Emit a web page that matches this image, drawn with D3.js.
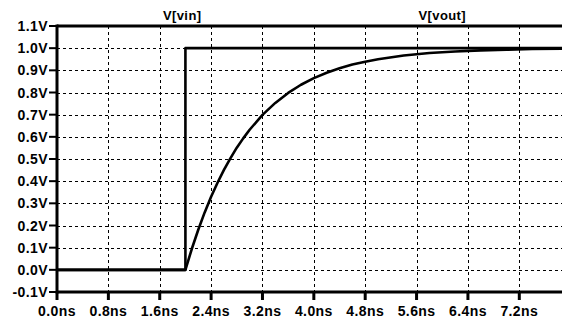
<!DOCTYPE html>
<html lang="en">
<head>
    <meta charset="UTF-8">
    <title>V(vin) / V(vout)</title>
    <script src="https://d3js.org/d3.v7.min.js"></script>
    <style>
        body { margin: 0; background: #fff; }
        svg { display: block; }
        .grid { stroke: #000; stroke-width: 1px; stroke-dasharray: 3,3; }
        .frame { stroke: #000; stroke-width: 3px; }
        .trace { fill: none; stroke: #000; stroke-width: 2.6px; stroke-linejoin: round; }
        text { font-family: "Liberation Sans", Arial, sans-serif; font-weight: bold; fill: #000; letter-spacing: 0.4px; }
    </style>
</head>
<body>
    <svg width="562" height="321"></svg>

    <script>
        // tick values
        const xTicks = [0.0, 0.8, 1.6, 2.4, 3.2, 4.0, 4.8, 5.6, 6.4, 7.2];
        const xTickLabels = ["0.0ns", "0.8ns", "1.6ns", "2.4ns", "3.2ns", "4.0ns", "4.8ns", "5.6ns", "6.4ns", "7.2ns"];
        const yTicks = [-0.1, 0.0, 0.1, 0.2, 0.3, 0.4, 0.5, 0.6, 0.7, 0.8, 0.9, 1.0, 1.1];
        const yTickLabels = ["-0.1V", "0.0V", "0.1V", "0.2V", "0.3V", "0.4V", "0.5V", "0.6V", "0.7V", "0.8V", "0.9V", "1.0V", "1.1V"];

        // V(vin): step at 2ns
        const vinTime = [0.0, 2.0, 2.0, 8.0];
        const vinVolt = [0.0, 0.0, 1.0, 1.0];

        // V(vout)
        const voutTime = [0.0, 2.0, 2.1, 2.2, 2.3, 2.4, 2.5, 2.6, 2.7, 2.8, 2.9, 3.0, 3.2, 3.4, 3.6, 3.8, 4.0, 4.2, 4.4, 4.6, 4.8, 5.0, 5.4, 5.8, 6.2, 6.6, 7.0, 7.4, 8.0];
        const voutVolt = [0.0, 0.0, 0.095, 0.181, 0.259, 0.330, 0.393, 0.451, 0.503, 0.551, 0.593, 0.632, 0.699, 0.753, 0.798, 0.835, 0.865, 0.889, 0.909, 0.926, 0.939, 0.950, 0.967, 0.978, 0.985, 0.990, 0.993, 0.996, 0.998];

        const traceNames = ["V[vin]", "V[vout]"];
        const traceLabelX = [1.95, 6.0]; // ns, where the labels sit

        const W = 562, H = 321;
        const padL = 57, padT = 26, padB = 292;

        const x = d3.scaleLinear().domain([0, 7.2]).range([padL, 519.3]);
        const y = d3.scaleLinear().domain([-0.1, 1.1]).range([padB, padT]);

        const svg = d3.select("svg");

        // dotted grid
        svg.selectAll(".hgrid")
            .data(yTicks.filter(v => v > -0.05 && v < 1.05))
            .enter()
            .append("line")
            .attr("class", "grid")
            .attr("x1", padL).attr("x2", W)
            .attr("y1", d => Math.round(y(d)) + 0.5)
            .attr("y2", d => Math.round(y(d)) + 0.5);

        svg.selectAll(".vgrid")
            .data(xTicks.slice(1))
            .enter()
            .append("line")
            .attr("class", "grid")
            .attr("x1", d => Math.round(x(d)) + 0.5)
            .attr("x2", d => Math.round(x(d)) + 0.5)
            .attr("y1", padT).attr("y2", padB);

        // frame (left, top, bottom)
        svg.append("line").attr("class", "frame").attr("x1", padL).attr("x2", padL).attr("y1", padT - 1.5).attr("y2", padB + 1.5);
        svg.append("line").attr("class", "frame").attr("x1", padL).attr("x2", W).attr("y1", y(1.1)).attr("y2", y(1.1));
        svg.append("line").attr("class", "frame").attr("x1", padL).attr("x2", W).attr("y1", y(-0.1)).attr("y2", y(-0.1));

        // y ticks + labels
        const yt = svg.selectAll(".ytick")
            .data(yTicks)
            .enter()
            .append("g")
            .attr("transform", d => `translate(0,${y(d)})`);
        yt.append("line")
            .attr("x1", padL - 8).attr("x2", padL)
            .attr("stroke", "#000").attr("stroke-width", 2);
        yt.append("text")
            .attr("x", 48)
            .attr("dy", "0.36em")
            .attr("text-anchor", "end")
            .attr("font-size", 14)
            .text((d, i) => yTickLabels[i]);

        // x ticks + labels
        const xt = svg.selectAll(".xtick")
            .data(xTicks)
            .enter()
            .append("g")
            .attr("transform", d => `translate(${x(d)},0)`);
        xt.append("line")
            .attr("y1", padB).attr("y2", padB + 8)
            .attr("stroke", "#000").attr("stroke-width", 3);
        xt.append("text")
            .attr("y", 316)
            .attr("text-anchor", "middle")
            .attr("font-size", 14)
            .text((d, i) => xTickLabels[i]);

        // traces
        const line = d3.line().x(d => x(d[0])).y(d => y(d[1]));

        svg.append("path")
            .attr("class", "trace")
            .attr("d", line(d3.zip(voutTime, voutVolt)));

        svg.append("path")
            .attr("class", "trace")
            .attr("d", line(d3.zip(vinTime, vinVolt)));

        // trace names
        svg.selectAll(".tname")
            .data(traceNames)
            .enter()
            .append("text")
            .attr("x", (d, i) => x(traceLabelX[i]))
            .attr("y", 20)
            .attr("text-anchor", "middle")
            .attr("font-size", 13)
            .text(d => d);
    </script>
</body>
</html>
